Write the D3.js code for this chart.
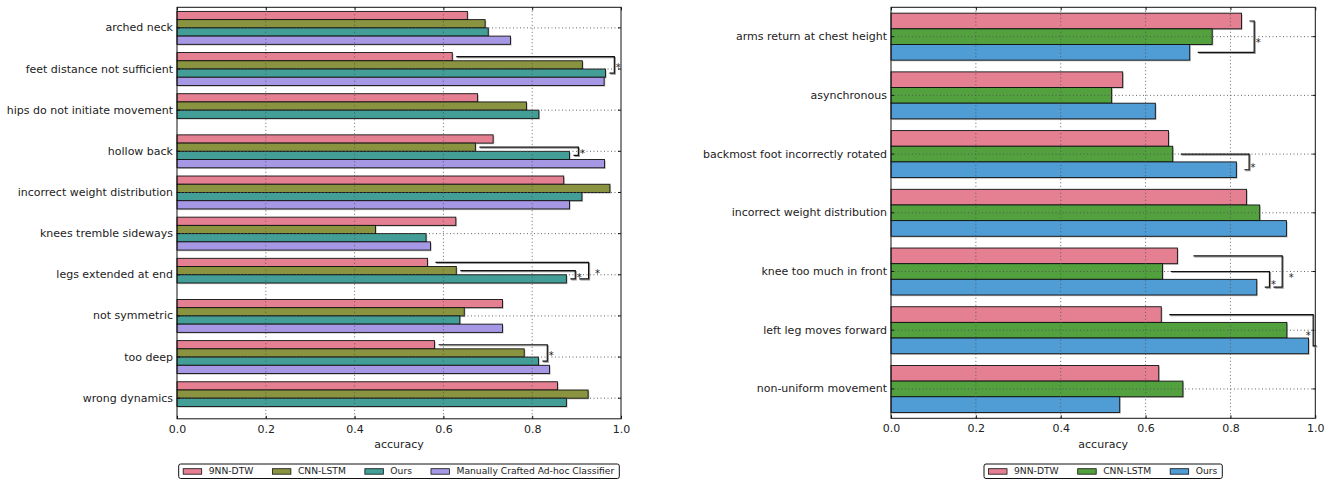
<!DOCTYPE html>
<html>
<head>
<meta charset="utf-8">
<script src="https://cdn.jsdelivr.net/npm/d3@7"></script>
<style>
body{margin:0;background:#fff;}
text{font-family:"DejaVu Sans",sans-serif;fill:#222;}
</style>
</head>
<body>
<svg id="chart" width="1333" height="483"></svg>
<script>
// left panel data
var leftCategories=["arched neck","feet distance not sufficient","hips do not initiate movement","hollow back","incorrect weight distribution","knees tremble sideways","legs extended at end","not symmetric","too deep","wrong dynamics"];
var leftSeries=["9NN-DTW","CNN-LSTM","Ours","Manually Crafted Ad-hoc Classifier"];
var leftDtw=[0.654,0.620,0.677,0.712,0.871,0.628,0.564,0.733,0.580,0.857];
var leftCnn=[0.694,0.913,0.787,0.672,0.975,0.447,0.629,0.647,0.782,0.926];
var leftOurs=[0.701,0.965,0.815,0.884,0.912,0.561,0.877,0.637,0.814,0.877];
var leftManual=[0.751,0.962,null,0.963,0.884,0.571,null,0.733,0.839,null];
// [category, series a, series b, level]
var leftSignif=[[1,0,2,0],[3,1,2,0],[6,1,2,0],[6,0,2,1],[8,0,2,0]];

// right panel data
var rightCategories=["arms return at chest height","asynchronous","backmost foot incorrectly rotated","incorrect weight distribution","knee too much in front","left leg moves forward","non-uniform movement"];
var rightSeries=["9NN-DTW","CNN-LSTM","Ours"];
var rightDtw=[0.826,0.546,0.654,0.838,0.675,0.637,0.631];
var rightCnn=[0.757,0.520,0.664,0.869,0.640,0.933,0.688];
var rightOurs=[0.704,0.623,0.814,0.932,0.862,0.984,0.539];
var rightSignif=[[0,0,2,0],[2,1,2,0],[4,1,2,0],[4,0,2,1],[5,0,2,0]];

var xTicks=[0,0.2,0.4,0.6,0.8,1.0];

var svg=d3.select("#chart");

/*
 * draws one panel: bars, grid, spines, ticks, significance brackets, legend
 */
function drawPanel(cfg){
	var g=svg.append("g");
	var x=d3.scaleLinear().domain([0,1]).range([cfg.left,cfg.right]);
	var y=d3.scaleBand().domain(cfg.categories).range([cfg.top,cfg.bottom]).paddingInner(0.2).paddingOuter(0.1);
	var inner=d3.scaleBand().domain(d3.range(cfg.values.length)).range([0,y.bandwidth()]);

	// bars with a faint shadow
	cfg.values.forEach(function(vals,s){
		var data=vals.map(function(v,i){return {c:cfg.categories[i],v:v};}).filter(function(d){return d.v!==null;});
		g.selectAll(null).data(data).enter().append("rect")
			.attr("x",x(0)+1.2).attr("y",function(d){return y(d.c)+inner(s)+1.2;})
			.attr("width",function(d){return x(d.v)-x(0);}).attr("height",inner.bandwidth())
			.attr("fill","#999").attr("opacity",0.6);
		g.selectAll(null).data(data).enter().append("rect")
			.attr("x",x(0)).attr("y",function(d){return y(d.c)+inner(s);})
			.attr("width",function(d){return x(d.v)-x(0);}).attr("height",inner.bandwidth())
			.attr("fill",cfg.colors[s]).attr("stroke","#111").attr("stroke-width",0.9);
	});

	// dotted grid on top of bars
	g.selectAll(null).data([0.2,0.4,0.6,0.8]).enter().append("line")
		.attr("x1",function(d){return x(d);}).attr("x2",function(d){return x(d);})
		.attr("y1",cfg.top).attr("y2",cfg.bottom)
		.attr("stroke","#555").attr("stroke-width",0.9).attr("stroke-dasharray","1,2.5");
	g.selectAll(null).data(cfg.categories).enter().append("line")
		.attr("x1",cfg.left).attr("x2",cfg.right)
		.attr("y1",function(d){return y(d)+y.bandwidth()/2;}).attr("y2",function(d){return y(d)+y.bandwidth()/2;})
		.attr("stroke","#555").attr("stroke-width",0.9).attr("stroke-dasharray","1,2.5");

	// axes with inward ticks
	g.append("g").attr("transform","translate(0,"+cfg.bottom+")")
		.call(d3.axisBottom(x).tickValues(xTicks).tickFormat(d3.format(".1f")).tickSizeInner(-3).tickSizeOuter(0).tickPadding(6));
	g.append("g").attr("transform","translate(0,"+cfg.top+")")
		.call(d3.axisTop(x).tickValues(xTicks).tickFormat("").tickSizeInner(-3).tickSizeOuter(0));
	g.append("g").attr("transform","translate("+cfg.left+",0)")
		.call(d3.axisLeft(y).tickSizeInner(-3).tickSizeOuter(0).tickPadding(4));
	g.append("g").attr("transform","translate("+cfg.right+",0)")
		.call(d3.axisRight(y).tickFormat("").tickSizeInner(-3).tickSizeOuter(0));
	g.selectAll(".domain").remove();
	g.selectAll(".tick line").attr("stroke","#111");
	g.selectAll(".tick text").attr("font-size",11).attr("fill","#222").attr("font-family","DejaVu Sans");

	g.append("rect").attr("x",cfg.left).attr("y",cfg.top)
		.attr("width",cfg.right-cfg.left).attr("height",cfg.bottom-cfg.top)
		.attr("fill","none").attr("stroke","#111").attr("stroke-width",1);

	g.append("text").attr("x",(cfg.left+cfg.right)/2).attr("y",448)
		.attr("text-anchor","middle").attr("font-size",11).text("accuracy");

	// significance brackets
	cfg.signif.forEach(function(sg){
		var c=cfg.categories[sg[0]];
		var va=cfg.values[sg[1]][sg[0]],vb=cfg.values[sg[2]][sg[0]];
		var ya=y(c)+inner(sg[1])+inner.bandwidth()/2;
		var yb=y(c)+inner(sg[2])+inner.bandwidth()/2;
		var top=Math.max(va,vb);
		var bx=top+cfg.off+sg[3]*0.03;
		var clamped=bx>0.995;
		if(clamped) bx=0.995;
		var xa=x(va)+cfg.gap*(1+sg[3]);
		var xb=sg[3]>0 ? x(top+cfg.off+(sg[3]-1)*0.03)+4 : x(vb)+cfg.gap;
		var pts=[[xa,ya],[x(bx),ya],[x(bx),yb],[xb,yb]];
		g.append("path").attr("d",d3.line()(pts.map(function(p){return [p[0]+1,p[1]+1];})))
			.attr("fill","none").attr("stroke","#999").attr("stroke-width",1.2);
		g.append("path").attr("d",d3.line()(pts))
			.attr("fill","none").attr("stroke","#111").attr("stroke-width",1.2);
		var sx=clamped ? x(bx)-5 : x(bx)+4+5*sg[3];
		g.append("text").attr("x",sx).attr("y",(ya+yb)/2+cfg.starDy+6)
			.attr("text-anchor","middle").attr("font-size",10).attr("fill","#333").text("*");
	});

	// legend under the panel
	var lg=g.append("g");
	var cx=(cfg.left+cfg.right)/2;
	var items=[],pos=0;
	cfg.series.forEach(function(name,s){
		var t=lg.append("text").attr("font-size",9.2).attr("y",474.4).text(name);
		var w=t.node().getComputedTextLength();
		items.push({t:t,s:s,x:pos});
		pos+=18.5+7+w+19;
	});
	var total=pos-19+9.5;
	var x0=cx-total/2;
	lg.insert("rect",":first-child").attr("x",x0).attr("y",464).attr("width",total).attr("height",14.5)
		.attr("rx",2).attr("fill","#fff").attr("stroke","#111").attr("stroke-width",1);
	items.forEach(function(it){
		var px=x0+4.5+it.x;
		lg.append("rect").attr("x",px).attr("y",468.7).attr("width",18.5).attr("height",5.5)
			.attr("fill",cfg.colors[it.s]).attr("stroke","#111").attr("stroke-width",0.8);
		it.t.attr("x",px+25.5);
	});
}

drawPanel({
	categories:leftCategories,series:leftSeries,
	values:[leftDtw,leftCnn,leftOurs,leftManual],
	colors:["#e58093","#8a9440","#429e96","#a798e5"],
	signif:leftSignif,
	left:177,right:621,top:7.3,bottom:418.8,
	gap:4,off:0.02,starDy:0
});

drawPanel({
	categories:rightCategories,series:rightSeries,
	values:[rightDtw,rightCnn,rightOurs],
	colors:["#e58093","#52a03e","#509dd5"],
	signif:rightSignif,
	left:891,right:1315.3,top:7.3,bottom:418.3,
	gap:8,off:0.03,starDy:3
});
</script>
</body>
</html>
